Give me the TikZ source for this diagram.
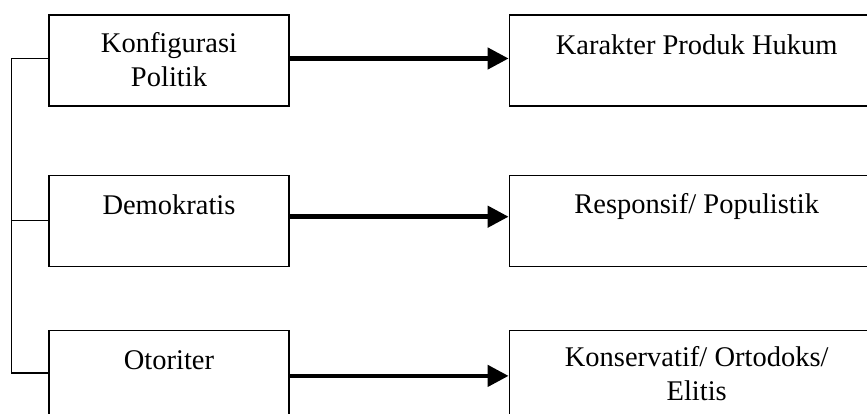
\documentclass[tikz,border=0pt]{standalone}
\usepackage{fontspec}
\setmainfont{Liberation Serif}
\usetikzlibrary{arrows.meta,positioning}

\tikzset{
  kotak/.style={draw, line width=1.2pt, inner sep=0pt, minimum height=91pt},
  kiri/.style={kotak, minimum width=240pt},
  kanan/.style={kotak, minimum width=375pt},
  teks/.style={align=center, inner sep=0pt, font=\fontsize{28.5}{34}\selectfont},
  panah/.style={line width=4.5pt, -{Triangle[length=21pt,width=21pt]}},
  garis/.style={line width=1.3pt}
}

\begin{document}
\begin{tikzpicture}[x=1pt,y=-1pt]
  \useasboundingbox (0,0) rectangle (867,414);
  \clip (0,0) rectangle (867,414);

  % kolom kiri
  \node[kiri] (konfig) at (169,60.5) {};
  \node[kiri, below=68pt of konfig] (demo) {};
  \node[kiri, below=63pt of demo] (otor) {};

  % kolom kanan
  \node[kanan, right=219pt of konfig] (karakter) {};
  \node[kanan, right=219pt of demo] (respon) {};
  \node[kanan, right=219pt of otor] (konser) {};

  % teks (base = baris terakhir)
  \node[teks, anchor=base] (konfigT) at ([yshift=-72pt]konfig.north) {Konfigurasi\\Politik};
  \node[teks, anchor=base] (demoT) at ([yshift=-40pt]demo.north) {Demokratis};
  \node[teks, anchor=base] (otorT) at ([yshift=-40pt]otor.north) {Otoriter};
  \node[teks, anchor=base] (karakterT) at ([yshift=-40pt]karakter.north) {Karakter Produk Hukum};
  \node[teks, anchor=base] (responT) at ([yshift=-39pt]respon.north) {Responsif/ Populistik};
  \node[teks, anchor=base] (konserT) at ([yshift=-71pt]konser.north) {Konservatif/ Ortodoks/\\Elitis};

  % garis kiri
  \coordinate (sudut1) at ([xshift=-37pt,yshift=2pt]konfig.west);
  \coordinate (sudut3) at ([xshift=-37pt,yshift=3pt]otor.west);
  \draw[garis] ([yshift=2pt]konfig.west) -- (sudut1) -- (sudut3) -- ([yshift=3pt]otor.west);
  \draw[garis] (demo.west) -- (demo.west -| sudut1);

  % panah
  \draw[panah] ([yshift=2pt]konfig.east) -- ([yshift=2pt]karakter.west);
  \draw[panah] ([yshift=4pt]demo.east) -- ([yshift=4pt]respon.west);
  \draw[panah] (otor.east) -- (konser.west);
\end{tikzpicture}
\end{document}
